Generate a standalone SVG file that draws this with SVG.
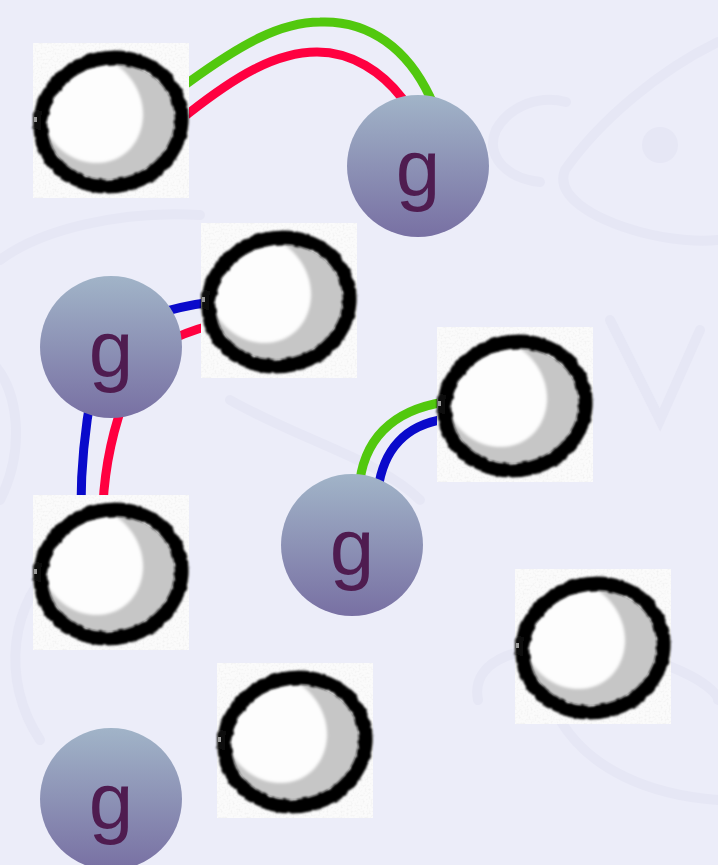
<svg xmlns="http://www.w3.org/2000/svg" xmlns:xlink="http://www.w3.org/1999/xlink" width="718" height="865" viewBox="0 0 718 865">
  <style>
    .wm { fill: none; stroke: #e6e7f5; stroke-width: 10; stroke-linecap: round; }
    .edge { fill: none; stroke-width: 9; stroke-linecap: butt; }
    .green { stroke: #52c80e; }
    .red { stroke: #ff0040; }
    .blue { stroke: #0a0acb; }
    .gnode circle { fill: url(#gGrad); }
    .gnode text { font-family: "Liberation Sans", Arial, sans-serif; font-size: 80px; fill: #4f1c50; text-anchor: middle; }
  </style>
  <defs>
    <linearGradient id="gGrad" x1="0" y1="0" x2="0" y2="1">
      <stop offset="0" stop-color="#a1b4c8"/>
      <stop offset="1" stop-color="#7870a3"/>
    </linearGradient>
    <filter id="rough" x="-10%" y="-10%" width="120%" height="120%">
      <feTurbulence type="fractalNoise" baseFrequency="0.12" numOctaves="2" seed="3" result="n"/>
      <feDisplacementMap in="SourceGraphic" in2="n" scale="4" xChannelSelector="R" yChannelSelector="G" result="d"/>
      <feGaussianBlur in="d" stdDeviation="1.1"/>
    </filter>
    <filter id="soft" x="-10%" y="-10%" width="120%" height="120%">
      <feGaussianBlur stdDeviation="1.6"/>
    </filter>
    <filter id="speckle" x="0" y="0" width="100%" height="100%">
      <feTurbulence type="fractalNoise" baseFrequency="0.5" numOctaves="1" seed="7" result="t"/>
      <feColorMatrix in="t" type="matrix" values="0 0 0 0 0.8  0 0 0 0 0.8  0 0 0 0 0.8  0 0 0 -2.2 1.25" result="s"/>
      <feComposite in="s" in2="SourceGraphic" operator="in"/>
    </filter>
    <clipPath id="inner">
      <ellipse cx="78" cy="79" rx="64" ry="57" transform="rotate(-14 78 79)"/>
    </clipPath>
    <!-- sketched ball picture used by the picture nodes -->
    <g id="pic">
      <rect width="156" height="155" fill="#fbfbfb"/>
      <rect width="156" height="155" fill="#fbfbfb" filter="url(#speckle)" opacity="0.5"/>
      <g clip-path="url(#inner)">
        <rect width="156" height="155" fill="#c6c6c6"/>
        <ellipse cx="58" cy="66" rx="50" ry="56" transform="rotate(-35 58 66)" fill="#fdfdfd" filter="url(#soft)"/>
      </g>
      <g filter="url(#rough)">
        <ellipse cx="78" cy="79" rx="71" ry="64" transform="rotate(-14 78 79)" fill="none" stroke="#050505" stroke-width="14"/>
        <rect x="0" y="68" width="8" height="18" fill="#111"/>
      </g>
      <rect x="1" y="74" width="3" height="5" fill="#9a9a9a"/>
    </g>
  </defs>

  <!-- background with faint watermark -->
  <rect width="718" height="865" fill="#ecedf9"/>
  <g id="watermark">
    <path class="wm" d="M566,102 C540,95 510,105 496,130 C485,155 505,178 540,182"/>
    <path class="wm" d="M718,42 C660,70 600,120 565,170 C555,195 590,218 640,232 C670,240 700,242 718,240"/>
    <circle cx="660" cy="145" r="18" fill="#e6e7f5"/>
    <path class="wm" d="M0,260 C40,230 120,210 200,215"/>
    <path class="wm" d="M-10,360 C20,390 25,450 0,500"/>
    <path class="wm" d="M610,320 L660,420 L700,330"/>
    <path class="wm" d="M478,700 C470,660 520,640 600,650 C680,660 718,690 718,700"/>
    <path class="wm" d="M560,720 C590,770 650,795 718,800"/>
    <path class="wm" d="M60,560 C10,600 0,680 40,740"/>
    <path class="wm" d="M230,400 C300,440 380,460 420,500"/>
  </g>

  <!-- connectors -->
  <g id="connectors">
    <path class="edge green" d="M176,91 L189,82 C240,45 280,22 320,22 C370,20 408,50 430,97 L438,112"/>
    <path class="edge red" d="M176,123 L189,113 C235,77 275,52 317,52 C352,52 382,72 402,98 L412,112"/>
    <path class="edge blue" d="M150,316 Q180,306 212,302"/>
    <path class="edge red" d="M160,345 Q185,332 212,325"/>
    <path class="edge blue" d="M92,390 Q81,450 81,505"/>
    <path class="edge red" d="M128,390 Q106,445 103,505"/>
    <path class="edge green" d="M359,490 C362,440 392,410 445,402"/>
    <path class="edge blue" d="M378,490 C383,450 405,425 445,419"/>
  </g>

  <!-- picture nodes -->
  <g id="pic1"><use href="#pic" x="33" y="43"/></g>
  <g id="pic2"><use href="#pic" x="201" y="223"/></g>
  <g id="pic3"><use href="#pic" x="437" y="327"/></g>
  <g id="pic4"><use href="#pic" x="33" y="495"/></g>
  <g id="pic5"><use href="#pic" x="217" y="663"/></g>
  <g id="pic6"><use href="#pic" x="515" y="569"/></g>

  <!-- g nodes -->
  <g id="g1" class="gnode"><circle cx="418" cy="166" r="71"/><text x="418" y="195">g</text></g>
  <g id="g2" class="gnode"><circle cx="111" cy="347" r="71"/><text x="111" y="376">g</text></g>
  <g id="g3" class="gnode"><circle cx="352" cy="545" r="71"/><text x="352" y="574">g</text></g>
  <g id="g4" class="gnode"><circle cx="111" cy="799" r="71"/><text x="111" y="828">g</text></g>
</svg>
